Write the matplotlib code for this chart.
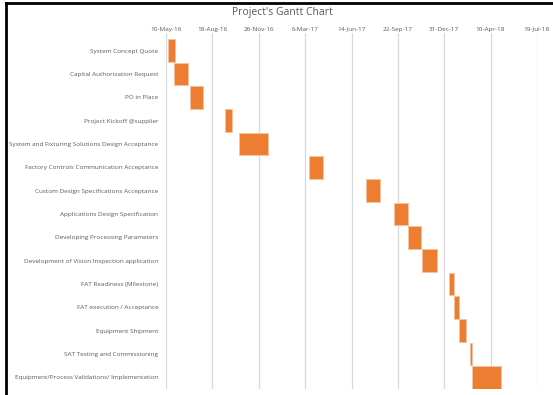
import matplotlib
matplotlib.use("Agg")
import matplotlib.pyplot as plt
import matplotlib.dates as mdates
from matplotlib.lines import Line2D
import datetime as dt

tasks = [
    "System Concept Quote",
    "Capital Authorization Request",
    "PO in Place",
    "Project Kickoff @supplier",
    "System and Fixturing Solutions Design Acceptance",
    "Factory Controls Communication Acceptance",
    "Custom Design Specifications Acceptance",
    "Applications Design Specification",
    "Developing Processing Parameters",
    "Development of Vision Inspection application",
    "FAT Readiness (Milestone)",
    "FAT execution / Acceptance",
    "Equipment Shipment",
    "SAT Testing and Commissioning",
    "Equipment/Process Validations/ Implementation",
]
starts = [
    "2016-05-14", "2016-05-27", "2016-07-01", "2016-09-14", "2016-10-15",
    "2017-03-14", "2017-07-15", "2017-09-14", "2017-10-14", "2017-11-14",
    "2018-01-10", "2018-01-21", "2018-02-01", "2018-02-24", "2018-03-01",
]
durations = [15, 30, 28, 15, 61, 30, 30, 30, 27, 31, 10, 11, 15, 5, 62]

tick_start = dt.date(2016, 5, 10)
tick_step = 100
n_ticks = 9

start_nums = [mdates.date2num(dt.date.fromisoformat(s)) for s in starts]
ticks = [mdates.date2num(tick_start + dt.timedelta(days=tick_step * i)) for i in range(n_ticks)]

def fmt(x, pos=None):
    d = mdates.num2date(x)
    return "%d-%s-%s" % (d.day, d.strftime("%b"), d.strftime("%y"))

plt.rcParams["font.family"] = ["Open Sans", "DejaVu Sans"]

fig = plt.figure(figsize=(5.53, 3.95), dpi=100)
ax = fig.add_axes([166 / 553, 1 - 389 / 395, 371 / 553, (389 - 33) / 395])

ypos = list(range(len(tasks)))
ax.barh(ypos, durations, left=start_nums, height=0.98, color="#ED7D31",
        edgecolor="#F6C3A0", linewidth=0.7, zorder=3)

ax.set_xlim(ticks[0], ticks[-1])
ax.set_ylim(len(tasks) - 0.5, -0.76)
ax.set_xticks(ticks)
ax.xaxis.set_major_formatter(plt.FuncFormatter(fmt))
ax.xaxis.tick_top()
ax.tick_params(axis="x", length=0, pad=1, labelsize=4.6, labelcolor="#595959")
ax.set_yticks(ypos)
ax.set_yticklabels(tasks)
ax.tick_params(axis="y", length=0, pad=5.5, labelsize=4.6, labelcolor="#595959")
ax.grid(axis="x", color="#D9D9D9", linewidth=0.9, zorder=0)
for s in ax.spines.values():
    s.set_visible(False)

fig.text(282 / 553, 1 - 12 / 395, "Project's Gantt Chart", ha="center", va="center",
         fontsize=7.5, color="#595959")

# black frame on left and top
fig.add_artist(Line2D([6 / 553, 6 / 553], [0, 1 - 3 / 395], color="black", linewidth=2,
                      transform=fig.transFigure))
fig.add_artist(Line2D([6 / 553, 1], [1 - 3 / 395, 1 - 3 / 395], color="black", linewidth=2,
                      transform=fig.transFigure))

fig.savefig("out.png", dpi=100)
